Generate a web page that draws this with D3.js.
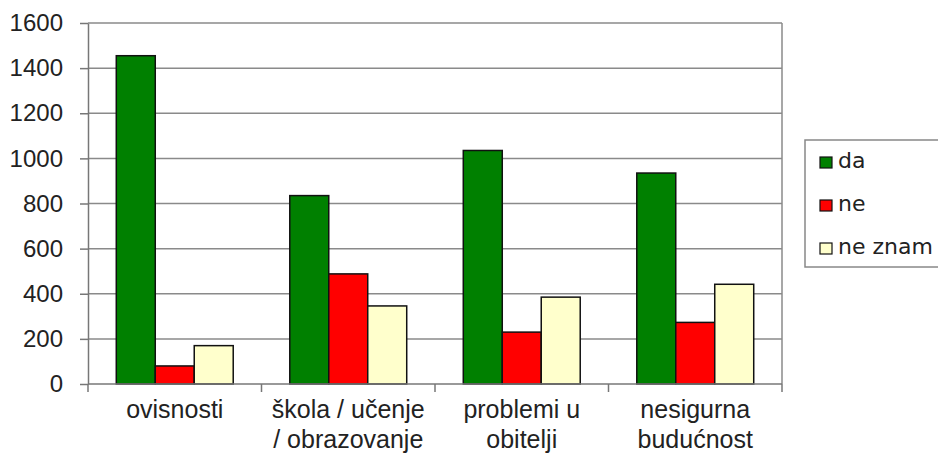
<!DOCTYPE html>
<html>
<head>
<meta charset="utf-8">
<script src="https://cdn.jsdelivr.net/npm/d3@7.9.0/dist/d3.min.js"></script>
<style>
  body { margin: 0; background: #fff; }
  svg { display: block; font-family: "Liberation Sans", Arial, sans-serif; }
</style>
</head>
<body>
<svg id="chart" width="938" height="458"></svg>
<script>
const categories = [
  ['ovisnosti'],
  ['škola / učenje', '/ obrazovanje'],
  ['problemi u', 'obitelji'],
  ['nesigurna', 'budućnost']
];
const seriesNames = ['da', 'ne', 'ne znam'];
const seriesColors = ['#008000', '#ff0000', '#ffffcc'];
const da = [1455, 835, 1035, 935];
const ne = [80, 488, 230, 273];
const neZnam = [170, 346, 385, 442];
const yTicks = [0, 200, 400, 600, 800, 1000, 1200, 1400, 1600];

const values = [da, ne, neZnam];
const plot = { left: 88, right: 782, top: 23, bottom: 384 };

const svg = d3.select('#chart');

const x0 = d3.scaleBand()
  .domain(d3.range(categories.length))
  .range([plot.left, plot.right]);

const bw = x0.bandwidth();
const x1 = d3.scaleBand()
  .domain(d3.range(seriesNames.length))
  .range([bw * 0.163, bw * 0.837]);

const y = d3.scaleLinear()
  .domain([0, 1600])
  .range([plot.bottom, plot.top]);

// gridlines
svg.append('g')
  .selectAll('line')
  .data(yTicks.slice(1))
  .join('line')
  .attr('x1', plot.left)
  .attr('x2', plot.right)
  .attr('y1', d => y(d))
  .attr('y2', d => y(d))
  .attr('stroke', '#8a8a8a')
  .attr('stroke-width', 1.5);

// right border
svg.append('line')
  .attr('x1', plot.right).attr('x2', plot.right)
  .attr('y1', plot.top).attr('y2', plot.bottom)
  .attr('stroke', '#8a8a8a')
  .attr('stroke-width', 1.5);

// bars
const groups = svg.append('g')
  .selectAll('g')
  .data(categories.map((c, i) => i))
  .join('g')
  .attr('transform', i => `translate(${x0(i)},0)`);

groups.selectAll('rect')
  .data(i => seriesNames.map((s, j) => ({ j, v: values[j][i] })))
  .join('rect')
  .attr('x', d => x1(d.j))
  .attr('width', x1.bandwidth())
  .attr('y', d => y(d.v))
  .attr('height', d => y(0) - y(d.v))
  .attr('fill', d => seriesColors[d.j])
  .attr('stroke', '#111')
  .attr('stroke-width', 1.5);

// y axis
const yAxis = svg.append('g')
  .attr('transform', `translate(${plot.left},0)`)
  .call(d3.axisLeft(y).tickValues(yTicks).tickFormat(d3.format('d'))
    .tickSize(8).tickPadding(17).tickSizeOuter(0));
yAxis.select('.domain').attr('stroke', '#777').attr('stroke-width', 1.5);
yAxis.selectAll('.tick line').attr('stroke', '#777').attr('stroke-width', 1.5);
yAxis.selectAll('.tick text')
  .attr('fill', '#222')
  .style('font-size', '24px')
  .style('font-family', '"Liberation Sans", Arial, sans-serif');

// x axis
const xAxisG = svg.append('g').attr('transform', `translate(0,${plot.bottom})`);
xAxisG.append('line')
  .attr('x1', plot.left).attr('x2', plot.right)
  .attr('stroke', '#777').attr('stroke-width', 1.5);
xAxisG.selectAll('.xtick')
  .data(d3.range(categories.length + 1))
  .join('line')
  .attr('class', 'xtick')
  .attr('x1', i => i < categories.length ? x0(i) : plot.right)
  .attr('x2', i => i < categories.length ? x0(i) : plot.right)
  .attr('y1', 0).attr('y2', 8)
  .attr('stroke', '#777').attr('stroke-width', 1.5);

xAxisG.selectAll('text')
  .data(categories)
  .join('text')
  .attr('text-anchor', 'middle')
  .attr('fill', '#222')
  .style('font-size', '25px')
  .attr('transform', (d, i) => `translate(${x0(i) + bw / 2},0)`)
  .selectAll('tspan')
  .data(d => d)
  .join('tspan')
  .attr('x', 0)
  .attr('y', (d, k) => 34 + k * 30)
  .text(d => d);

// legend
const legend = svg.append('g').attr('transform', 'translate(805,140)');
legend.append('rect')
  .attr('width', 150).attr('height', 127)
  .attr('fill', '#fff')
  .attr('stroke', '#888').attr('stroke-width', 1.5);

const items = legend.selectAll('g.item')
  .data(seriesNames)
  .join('g')
  .attr('class', 'item')
  .attr('transform', (d, i) => `translate(15,${28 + i * 43})`);

items.append('rect')
  .attr('x', 0).attr('y', -11)
  .attr('width', 12).attr('height', 11)
  .attr('fill', (d, i) => seriesColors[i])
  .attr('stroke', '#111').attr('stroke-width', 1.2);

items.append('text')
  .attr('x', 18).attr('y', 0)
  .attr('fill', '#222')
  .style('font-size', '22px')
  .style('font-family', '"DejaVu Sans", sans-serif')
  .text(d => d);
</script>
</body>
</html>
